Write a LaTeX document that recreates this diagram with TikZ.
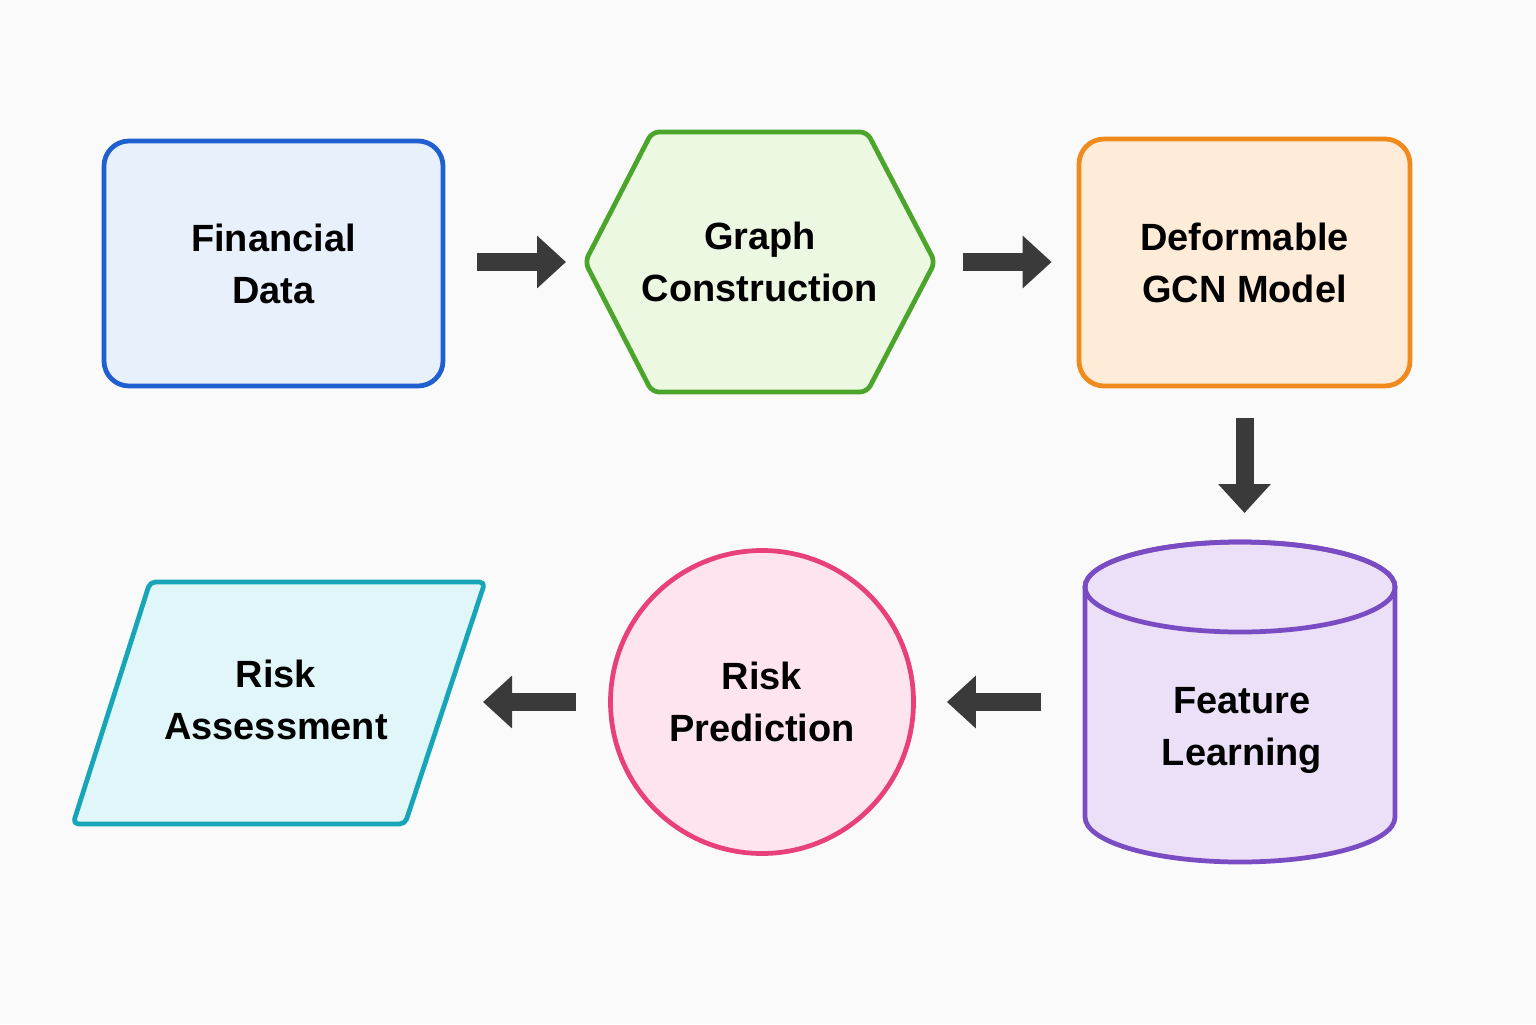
\documentclass[tikz,border=0pt]{standalone}
\usepackage{fontspec}
\setmainfont{Liberation Sans}
\usetikzlibrary{arrows.meta}

\definecolor{bgcol}{HTML}{FAFAFA}
\definecolor{arrowcol}{HTML}{3A3A3A}
\definecolor{finDraw}{HTML}{1F5FD0}   \definecolor{finFill}{HTML}{E8F0FC}
\definecolor{graphDraw}{HTML}{4AA52A} \definecolor{graphFill}{HTML}{ECF8E2}
\definecolor{gcnDraw}{HTML}{F08A1C}   \definecolor{gcnFill}{HTML}{FEEBD8}
\definecolor{featDraw}{HTML}{7A4CC4}  \definecolor{featFill}{HTML}{ECE0F8}
\definecolor{predDraw}{HTML}{E8407A}  \definecolor{predFill}{HTML}{FDE4EE}
\definecolor{riskDraw}{HTML}{17A5B8}  \definecolor{riskFill}{HTML}{E0F6F8}

\tikzset{
  labeltext/.style={align=center, text=black,
    font=\fontsize{10.8}{14.8}\selectfont\bfseries},
  box/.style={labeltext, draw, rounded corners=0.25cm, line width=1.35pt},
  flowarrow/.style={draw=arrowcol, line width=0.18cm, line cap=butt,
    -{Triangle[length=0.29cm, width=0.51cm]}}
}

\begin{document}
\begin{tikzpicture}[line join=round, line cap=round, thick]
  % nen
  \fill[bgcol] (0,0) rectangle (15.36,10.24);
  \useasboundingbox (0,0) rectangle (15.36,10.24);

  % ====== HANG TREN ======
  \node[box, draw=finDraw, fill=finFill, minimum width=3.39cm, minimum height=2.45cm]
    (fin) at (2.735,7.605) {Financial\\Data};

  % luc giac
  \filldraw[draw=graphDraw, fill=graphFill, line width=1.35pt, rounded corners=2pt]
    (5.85,7.62) -- (6.52,8.92) -- (8.67,8.92) -- (9.35,7.62)
    -- (8.67,6.32) -- (6.52,6.32) -- cycle;
  \node[labeltext] (graph) at (7.60,7.62) {Graph\\Construction};
  \coordinate (graph-w) at (5.85,7.62);
  \coordinate (graph-e) at (9.35,7.62);

  \node[box, draw=gcnDraw, fill=gcnFill, minimum width=3.31cm, minimum height=2.47cm]
    (gcn) at (12.445,7.615) {Deformable\\GCN Model};

  % ====== HANG DUOI ======
  % hinh tru
  \filldraw[draw=featDraw, fill=featFill, line width=1.35pt]
    (10.85,4.37) -- (10.85,2.07)
    arc[start angle=180, end angle=360, x radius=1.55, y radius=0.45]
    -- (13.95,4.37)
    arc[start angle=0, end angle=180, x radius=1.55, y radius=0.45] -- cycle;
  \draw[featDraw, line width=1.35pt] (12.40,4.37) ellipse [x radius=1.55, y radius=0.45];
  \node[labeltext] (feat) at (12.42,2.94) {Feature\\Learning};
  \coordinate (feat-top) at (12.40,4.82);
  \coordinate (feat-w) at (10.85,3.22);

  \node[labeltext, circle, draw=predDraw, fill=predFill, line width=1.35pt,
    minimum size=3.03cm, inner sep=0pt] (pred) at (7.62,3.22) {Risk\\Prediction};

  % hinh binh hanh
  \filldraw[draw=riskDraw, fill=riskFill, line width=1.35pt, rounded corners=1.5pt]
    (1.50,4.42) -- (4.85,4.42) -- (4.05,2.00) -- (0.73,2.00) -- cycle;
  \node[labeltext] (assess) at (2.76,3.24) {Risk\\Assessment};
  \coordinate (assess-e) at (4.45,3.22);

  % ====== MUI TEN ======
  \draw[flowarrow, shorten <=0.32cm, shorten >=0.19cm] (fin.east |- graph-w) -- (graph-w);
  \draw[flowarrow, shorten <=0.28cm, shorten >=0.25cm] (graph-e) -- (gcn.west |- graph-e);
  \draw[flowarrow, shorten <=0.30cm, shorten >=0.29cm] (gcn.south) -- (gcn.south |- feat-top);
  \draw[flowarrow, shorten <=0.44cm, shorten >=0.31cm] (feat-w) -- (pred.east);
  \draw[flowarrow, shorten <=0.32cm, shorten >=0.38cm] (pred.west) -- (assess-e);
\end{tikzpicture}
\end{document}
